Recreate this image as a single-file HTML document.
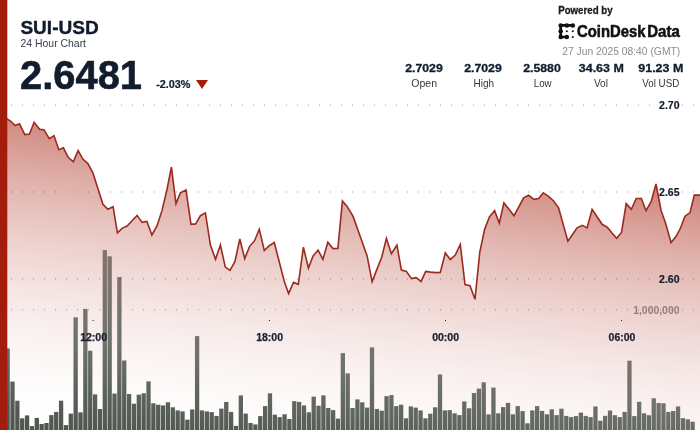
<!DOCTYPE html>
<html lang="en">
<head>
<meta charset="utf-8">
<title>SUI-USD 24 Hour Chart</title>
<style>
html,body{margin:0;padding:0;background:#fff;}
body{width:700px;height:430px;overflow:hidden;}
svg{display:block;will-change:transform;}
text{font-family:"Liberation Sans",sans-serif;}
.b{font-weight:bold;}
</style>
</head>
<body>
<svg width="700" height="430" viewBox="0 0 700 430">
<defs>
<linearGradient id="ag" gradientUnits="userSpaceOnUse" x1="0.0" y1="117.0" x2="-36.6" y2="432.8">
<stop offset="0.0000" stop-color="#a61e0c" stop-opacity="0.5270"/>
<stop offset="0.0625" stop-color="#a61e0c" stop-opacity="0.4632"/>
<stop offset="0.1250" stop-color="#a61e0c" stop-opacity="0.4035"/>
<stop offset="0.1875" stop-color="#a61e0c" stop-opacity="0.3479"/>
<stop offset="0.2500" stop-color="#a61e0c" stop-opacity="0.2964"/>
<stop offset="0.3125" stop-color="#a61e0c" stop-opacity="0.2491"/>
<stop offset="0.3750" stop-color="#a61e0c" stop-opacity="0.2059"/>
<stop offset="0.4375" stop-color="#a61e0c" stop-opacity="0.1667"/>
<stop offset="0.5000" stop-color="#a61e0c" stop-opacity="0.1318"/>
<stop offset="0.5625" stop-color="#a61e0c" stop-opacity="0.1009"/>
<stop offset="0.6250" stop-color="#a61e0c" stop-opacity="0.0741"/>
<stop offset="0.6875" stop-color="#a61e0c" stop-opacity="0.0515"/>
<stop offset="0.7500" stop-color="#a61e0c" stop-opacity="0.0329"/>
<stop offset="0.8125" stop-color="#a61e0c" stop-opacity="0.0185"/>
<stop offset="0.8750" stop-color="#a61e0c" stop-opacity="0.0082"/>
<stop offset="0.9375" stop-color="#a61e0c" stop-opacity="0.0021"/>
<stop offset="1.0000" stop-color="#a61e0c" stop-opacity="0.0000"/>
</linearGradient>
<linearGradient id="bg" gradientUnits="userSpaceOnUse" x1="0.0" y1="243.0" x2="-21.4" y2="427.5">
<stop offset="0.0000" stop-color="#86726c"/>
<stop offset="0.2246" stop-color="#7a726c"/>
<stop offset="0.4652" stop-color="#70726c"/>
<stop offset="0.6738" stop-color="#606660"/>
<stop offset="0.8877" stop-color="#525a52"/>
<stop offset="1.0000" stop-color="#4c564d"/>
</linearGradient>
</defs>
<rect width="700" height="430" fill="#fff"/>
<!-- area -->
<path d="M5.5 117.8 L10.8 121.3 L15.1 125.6 L19.5 123.8 L24.8 134.6 L29.5 134.1 L34.1 122.3 L39.6 129.3 L43.9 129.7 L49.3 138.6 L54 135.6 L58.8 149.7 L63.4 147.8 L68.4 157.6 L73.3 161.8 L78.1 150.6 L83.1 159.3 L87.9 163.6 L92.9 172.9 L97.9 188.6 L102.9 204.3 L107.9 209.3 L113.1 206.7 L117.4 232.9 L122.4 228.1 L127.1 226.1 L132.1 220.7 L137.1 215.4 L142.1 222.4 L146.9 221.4 L151.9 235 L157.1 225.7 L161.9 210.9 L166.7 190.9 L171.4 167.1 L176 203.6 L180.4 192.9 L186 190 L191 224.3 L195.7 223.9 L200.4 215.7 L205.4 212.9 L210.4 245 L215.5 259.3 L220.4 245 L225.3 267.1 L230 270.3 L235 261.4 L239.8 239 L244.7 258.6 L249.5 246.6 L254.6 240.7 L259.3 229.3 L264.3 250.5 L269.3 245.7 L274.3 242.6 L279.3 262 L284.3 281.4 L288.6 293.6 L293.6 282.4 L298.3 284.3 L303.4 247.2 L308.4 268 L313.1 255.9 L318.1 250.1 L322.9 259.4 L327.8 242.2 L333 248.6 L337.9 248.4 L342.4 201 L347.1 206.4 L353.1 216.4 L367.1 255.9 L372.1 281.6 L376.9 269.4 L381.7 257.3 L386.4 238.5 L391.4 253.7 L396.9 245.2 L401.4 270 L406.4 271.4 L411.4 278.6 L416.1 277.6 L421.1 281.4 L425.7 271.4 L430.7 272.1 L435.7 272.6 L440.3 272.4 L445.3 252.9 L450.3 259.6 L455.3 255 L460.3 244.3 L465 284.6 L470 285.7 L475 299.3 L479.8 252 L484.6 229.3 L489.3 217.1 L494.6 210.7 L499.3 223.3 L503.9 202.9 L509 209.3 L514 215.7 L518.8 206.8 L523.6 197.9 L528.6 195.3 L533.9 199.3 L538.6 198.6 L543.3 192.9 L548.6 196.3 L553.6 201 L558.6 207.9 L563.2 224.5 L567.9 241.1 L572.5 234.5 L577.1 227.9 L582.4 225.4 L587.1 227.9 L592.1 209.3 L597.1 216.8 L602.1 224.3 L607.4 227.4 L612 233 L616.6 238.3 L621.5 232.4 L626.2 203.6 L631.4 209.4 L636.2 198.5 L641.4 198.5 L646 210.7 L651.1 201.6 L656 184 L661.1 210.5 L665.6 223.3 L671 242.5 L676 236.5 L680.5 228 L685 216.2 L690 212.6 L694.3 195.1 L701 195.1 L701 431 L5.5 431 Z" fill="url(#ag)"/>
<!-- grid -->
<g stroke="#3c2828" stroke-opacity="0.24" stroke-width="2" stroke-dasharray="1 10" fill="none">
<path d="M0 105H655M682 105H700"/>
<path d="M0 192H655M682 192H700"/>
<path d="M0 279H655M682 279H700"/>
</g>
<path d="M0 309.7H700" stroke="#3c2828" stroke-opacity="0.24" stroke-width="2" stroke-dasharray="1 10" fill="none"/>
<!-- volume bars -->
<g fill="url(#bg)">
<rect x="5.49" y="348.4" width="4.3" height="82.6"/>
<rect x="10.35" y="381.6" width="4.3" height="49.4"/>
<rect x="15.21" y="400.7" width="4.3" height="30.3"/>
<rect x="20.06" y="418.3" width="4.3" height="12.7"/>
<rect x="24.92" y="415.4" width="4.3" height="15.6"/>
<rect x="29.78" y="426.1" width="4.3" height="4.9"/>
<rect x="34.64" y="417.9" width="4.3" height="13.1"/>
<rect x="39.50" y="424" width="4.3" height="7"/>
<rect x="44.35" y="423" width="4.3" height="8"/>
<rect x="49.21" y="415.1" width="4.3" height="15.9"/>
<rect x="54.07" y="411.9" width="4.3" height="19.1"/>
<rect x="58.93" y="400.7" width="4.3" height="30.3"/>
<rect x="63.79" y="425.1" width="4.3" height="5.9"/>
<rect x="68.64" y="413.6" width="4.3" height="17.4"/>
<rect x="73.50" y="317.3" width="4.3" height="113.7"/>
<rect x="78.36" y="412.3" width="4.3" height="18.7"/>
<rect x="83.22" y="308.9" width="4.3" height="122.1"/>
<rect x="88.08" y="350.7" width="4.3" height="80.3"/>
<rect x="92.93" y="394.4" width="4.3" height="36.6"/>
<rect x="97.79" y="409" width="4.3" height="22"/>
<rect x="102.65" y="250.1" width="4.3" height="180.9"/>
<rect x="107.51" y="256.3" width="4.3" height="174.7"/>
<rect x="112.37" y="393.6" width="4.3" height="37.4"/>
<rect x="117.22" y="277" width="4.3" height="154"/>
<rect x="122.08" y="360.5" width="4.3" height="70.5"/>
<rect x="126.94" y="394" width="4.3" height="37"/>
<rect x="131.80" y="403.7" width="4.3" height="27.3"/>
<rect x="136.66" y="394.7" width="4.3" height="36.3"/>
<rect x="141.51" y="393.3" width="4.3" height="37.7"/>
<rect x="146.37" y="381.4" width="4.3" height="49.6"/>
<rect x="151.23" y="403.3" width="4.3" height="27.7"/>
<rect x="156.09" y="404.7" width="4.3" height="26.3"/>
<rect x="160.95" y="405.4" width="4.3" height="25.6"/>
<rect x="165.80" y="402.3" width="4.3" height="28.7"/>
<rect x="170.66" y="407.3" width="4.3" height="23.7"/>
<rect x="175.52" y="410.4" width="4.3" height="20.6"/>
<rect x="180.38" y="411.4" width="4.3" height="19.6"/>
<rect x="185.24" y="419.7" width="4.3" height="11.3"/>
<rect x="190.09" y="409.4" width="4.3" height="21.6"/>
<rect x="194.95" y="336.1" width="4.3" height="94.9"/>
<rect x="199.81" y="410.4" width="4.3" height="20.6"/>
<rect x="204.67" y="411.4" width="4.3" height="19.6"/>
<rect x="209.53" y="412.1" width="4.3" height="18.9"/>
<rect x="214.38" y="415.9" width="4.3" height="15.1"/>
<rect x="219.24" y="408.6" width="4.3" height="22.4"/>
<rect x="224.10" y="401.9" width="4.3" height="29.1"/>
<rect x="228.96" y="411.9" width="4.3" height="19.1"/>
<rect x="233.82" y="425.9" width="4.3" height="5.1"/>
<rect x="238.67" y="395.4" width="4.3" height="35.6"/>
<rect x="243.53" y="413.6" width="4.3" height="17.4"/>
<rect x="248.39" y="423" width="4.3" height="8"/>
<rect x="253.25" y="424.4" width="4.3" height="6.6"/>
<rect x="258.11" y="416.1" width="4.3" height="14.9"/>
<rect x="262.96" y="406.1" width="4.3" height="24.9"/>
<rect x="267.82" y="393.3" width="4.3" height="37.7"/>
<rect x="272.68" y="414.7" width="4.3" height="16.3"/>
<rect x="277.54" y="417.1" width="4.3" height="13.9"/>
<rect x="282.40" y="414.3" width="4.3" height="16.7"/>
<rect x="287.25" y="419" width="4.3" height="12"/>
<rect x="292.11" y="401.1" width="4.3" height="29.9"/>
<rect x="296.97" y="401.9" width="4.3" height="29.1"/>
<rect x="301.83" y="405.4" width="4.3" height="25.6"/>
<rect x="306.69" y="412.3" width="4.3" height="18.7"/>
<rect x="311.54" y="396.6" width="4.3" height="34.4"/>
<rect x="316.40" y="405.7" width="4.3" height="25.3"/>
<rect x="321.26" y="395.4" width="4.3" height="35.6"/>
<rect x="326.12" y="408" width="4.3" height="23"/>
<rect x="330.98" y="410.1" width="4.3" height="20.9"/>
<rect x="335.83" y="418.6" width="4.3" height="12.4"/>
<rect x="340.69" y="353.1" width="4.3" height="77.9"/>
<rect x="345.55" y="373.4" width="4.3" height="57.6"/>
<rect x="350.41" y="408" width="4.3" height="23"/>
<rect x="355.27" y="399.4" width="4.3" height="31.6"/>
<rect x="360.12" y="402.3" width="4.3" height="28.7"/>
<rect x="364.98" y="407.6" width="4.3" height="23.4"/>
<rect x="369.84" y="347.4" width="4.3" height="83.6"/>
<rect x="374.70" y="409" width="4.3" height="22"/>
<rect x="379.56" y="410.7" width="4.3" height="20.3"/>
<rect x="384.41" y="396.1" width="4.3" height="34.9"/>
<rect x="389.27" y="395.1" width="4.3" height="35.9"/>
<rect x="394.13" y="406.1" width="4.3" height="24.9"/>
<rect x="398.99" y="404.7" width="4.3" height="26.3"/>
<rect x="403.85" y="418.3" width="4.3" height="12.7"/>
<rect x="408.70" y="406.4" width="4.3" height="24.6"/>
<rect x="413.56" y="407.6" width="4.3" height="23.4"/>
<rect x="418.42" y="410.4" width="4.3" height="20.6"/>
<rect x="423.28" y="418.3" width="4.3" height="12.7"/>
<rect x="428.14" y="413.7" width="4.3" height="17.3"/>
<rect x="432.99" y="407.3" width="4.3" height="23.7"/>
<rect x="437.85" y="374.4" width="4.3" height="56.6"/>
<rect x="442.71" y="410.4" width="4.3" height="20.6"/>
<rect x="447.57" y="410.1" width="4.3" height="20.9"/>
<rect x="452.43" y="413.3" width="4.3" height="17.7"/>
<rect x="457.28" y="415.1" width="4.3" height="15.9"/>
<rect x="462.14" y="401.4" width="4.3" height="29.6"/>
<rect x="467.00" y="408.3" width="4.3" height="22.7"/>
<rect x="471.86" y="393" width="4.3" height="38"/>
<rect x="476.72" y="388.6" width="4.3" height="42.4"/>
<rect x="481.57" y="382.3" width="4.3" height="48.7"/>
<rect x="486.43" y="414.4" width="4.3" height="16.6"/>
<rect x="491.29" y="387.6" width="4.3" height="43.4"/>
<rect x="496.15" y="413.3" width="4.3" height="17.7"/>
<rect x="501.01" y="407.1" width="4.3" height="23.9"/>
<rect x="505.86" y="402.9" width="4.3" height="28.1"/>
<rect x="510.72" y="414.3" width="4.3" height="16.7"/>
<rect x="515.58" y="406.1" width="4.3" height="24.9"/>
<rect x="520.44" y="411.1" width="4.3" height="19.9"/>
<rect x="525.30" y="423.3" width="4.3" height="7.7"/>
<rect x="530.15" y="410.4" width="4.3" height="20.6"/>
<rect x="535.01" y="406.1" width="4.3" height="24.9"/>
<rect x="539.87" y="410.9" width="4.3" height="20.1"/>
<rect x="544.73" y="414.3" width="4.3" height="16.7"/>
<rect x="549.59" y="409.3" width="4.3" height="21.7"/>
<rect x="554.44" y="415.1" width="4.3" height="15.9"/>
<rect x="559.30" y="408.7" width="4.3" height="22.3"/>
<rect x="564.16" y="415.9" width="4.3" height="15.1"/>
<rect x="569.02" y="417.1" width="4.3" height="13.9"/>
<rect x="573.88" y="416.1" width="4.3" height="14.9"/>
<rect x="578.73" y="412.6" width="4.3" height="18.4"/>
<rect x="583.59" y="415.9" width="4.3" height="15.1"/>
<rect x="588.45" y="417.1" width="4.3" height="13.9"/>
<rect x="593.31" y="406.4" width="4.3" height="24.6"/>
<rect x="598.17" y="420.7" width="4.3" height="10.3"/>
<rect x="603.02" y="415.8" width="4.3" height="15.2"/>
<rect x="607.88" y="410.5" width="4.3" height="20.5"/>
<rect x="612.74" y="415.2" width="4.3" height="15.8"/>
<rect x="617.60" y="417.1" width="4.3" height="13.9"/>
<rect x="622.46" y="411.9" width="4.3" height="19.1"/>
<rect x="627.31" y="360.7" width="4.3" height="70.3"/>
<rect x="632.17" y="416.1" width="4.3" height="14.9"/>
<rect x="637.03" y="401.8" width="4.3" height="29.2"/>
<rect x="641.89" y="413.3" width="4.3" height="17.7"/>
<rect x="646.75" y="415.2" width="4.3" height="15.8"/>
<rect x="651.60" y="398.3" width="4.3" height="32.7"/>
<rect x="656.46" y="403" width="4.3" height="28"/>
<rect x="661.32" y="403.3" width="4.3" height="27.7"/>
<rect x="666.18" y="411.9" width="4.3" height="19.1"/>
<rect x="671.04" y="411" width="4.3" height="20"/>
<rect x="675.89" y="406.4" width="4.3" height="24.6"/>
<rect x="680.75" y="418.1" width="4.3" height="12.9"/>
<rect x="685.61" y="419.3" width="4.3" height="11.7"/>
<rect x="690.47" y="421.7" width="4.3" height="9.3"/>
</g>

<!-- price line -->
<path d="M5.5 117.8 L10.8 121.3 L15.1 125.6 L19.5 123.8 L24.8 134.6 L29.5 134.1 L34.1 122.3 L39.6 129.3 L43.9 129.7 L49.3 138.6 L54 135.6 L58.8 149.7 L63.4 147.8 L68.4 157.6 L73.3 161.8 L78.1 150.6 L83.1 159.3 L87.9 163.6 L92.9 172.9 L97.9 188.6 L102.9 204.3 L107.9 209.3 L113.1 206.7 L117.4 232.9 L122.4 228.1 L127.1 226.1 L132.1 220.7 L137.1 215.4 L142.1 222.4 L146.9 221.4 L151.9 235 L157.1 225.7 L161.9 210.9 L166.7 190.9 L171.4 167.1 L176 203.6 L180.4 192.9 L186 190 L191 224.3 L195.7 223.9 L200.4 215.7 L205.4 212.9 L210.4 245 L215.5 259.3 L220.4 245 L225.3 267.1 L230 270.3 L235 261.4 L239.8 239 L244.7 258.6 L249.5 246.6 L254.6 240.7 L259.3 229.3 L264.3 250.5 L269.3 245.7 L274.3 242.6 L279.3 262 L284.3 281.4 L288.6 293.6 L293.6 282.4 L298.3 284.3 L303.4 247.2 L308.4 268 L313.1 255.9 L318.1 250.1 L322.9 259.4 L327.8 242.2 L333 248.6 L337.9 248.4 L342.4 201 L347.1 206.4 L353.1 216.4 L367.1 255.9 L372.1 281.6 L376.9 269.4 L381.7 257.3 L386.4 238.5 L391.4 253.7 L396.9 245.2 L401.4 270 L406.4 271.4 L411.4 278.6 L416.1 277.6 L421.1 281.4 L425.7 271.4 L430.7 272.1 L435.7 272.6 L440.3 272.4 L445.3 252.9 L450.3 259.6 L455.3 255 L460.3 244.3 L465 284.6 L470 285.7 L475 299.3 L479.8 252 L484.6 229.3 L489.3 217.1 L494.6 210.7 L499.3 223.3 L503.9 202.9 L509 209.3 L514 215.7 L518.8 206.8 L523.6 197.9 L528.6 195.3 L533.9 199.3 L538.6 198.6 L543.3 192.9 L548.6 196.3 L553.6 201 L558.6 207.9 L563.2 224.5 L567.9 241.1 L572.5 234.5 L577.1 227.9 L582.4 225.4 L587.1 227.9 L592.1 209.3 L597.1 216.8 L602.1 224.3 L607.4 227.4 L612 233 L616.6 238.3 L621.5 232.4 L626.2 203.6 L631.4 209.4 L636.2 198.5 L641.4 198.5 L646 210.7 L651.1 201.6 L656 184 L661.1 210.5 L665.6 223.3 L671 242.5 L676 236.5 L680.5 228 L685 216.2 L690 212.6 L694.3 195.1 L701 195.1" fill="none" stroke="#9c2a1e" stroke-width="1.6" stroke-linejoin="miter"/>
<!-- left accent -->
<rect x="0" y="0" width="7.3" height="430" fill="#a41c0c"/>
<!-- axis labels -->
<g class="b" font-size="10.5" fill="#111c2d" stroke="#111c2d" stroke-width="0.2">
<text x="659.1" y="108.8" textLength="20.4" lengthAdjust="spacingAndGlyphs">2.70</text>
<text x="659.1" y="195.8" textLength="20.4" lengthAdjust="spacingAndGlyphs">2.65</text>
<text x="659.1" y="282.8" textLength="20.4" lengthAdjust="spacingAndGlyphs">2.60</text>
</g>
<text class="b" x="633.2" y="313.6" font-size="10.5" fill="#6d5a58" fill-opacity="0.7" textLength="46.3" lengthAdjust="spacingAndGlyphs">1,000,000</text>
<g fill="#111c2d">
<rect x="92.6" y="320" width="1" height="1"/>
<rect x="268.9" y="320" width="1" height="1"/>
<rect x="445" y="320" width="1" height="1"/>
<rect x="621.1" y="320" width="1" height="1"/>
</g>
<g class="b" font-size="10.5" fill="#1b2030" stroke="#1b2030" stroke-width="0.25" text-anchor="middle">
<text x="93.6" y="341">12:00</text>
<text x="269.6" y="341">18:00</text>
<text x="445.6" y="341">00:00</text>
<text x="622" y="341">06:00</text>
</g>
<!-- header left -->
<text class="b" x="20.4" y="33.5" font-size="17.7" fill="#111c2d" stroke="#111c2d" stroke-width="0.35" textLength="78.3" lengthAdjust="spacingAndGlyphs">SUI-USD</text>
<text x="20.5" y="47" font-size="11" fill="#3b4048" textLength="65.5" lengthAdjust="spacingAndGlyphs">24 Hour Chart</text>
<text class="b" x="20" y="88.6" font-size="40" fill="#111c2d" stroke="#111c2d" stroke-width="0.6" textLength="122" lengthAdjust="spacingAndGlyphs">2.6481</text>
<text class="b" x="156.2" y="87.9" font-size="10.5" fill="#111c2d" stroke="#111c2d" stroke-width="0.2" textLength="34.3" lengthAdjust="spacingAndGlyphs">-2.03%</text>
<path d="M196 80 L208 80 L202 89 Z" fill="#a81c0e"/>
<!-- header right -->
<text class="b" x="558.2" y="14.4" font-size="10" fill="#1a1a1a" stroke="#1a1a1a" stroke-width="0.3" textLength="54.4" lengthAdjust="spacingAndGlyphs">Powered by</text>
<g fill="#111" stroke="none">
<path d="M572.8 25.4 L560.7 25.4 L560.7 37 L566.8 37" fill="none" stroke="#111" stroke-width="2.7" stroke-linecap="round" stroke-linejoin="round"/>
<circle cx="560.7" cy="25.4" r="2.25"/><circle cx="566.8" cy="25.4" r="2.25"/><circle cx="572.8" cy="25.4" r="2.25"/>
<circle cx="560.7" cy="31.2" r="2.25"/><circle cx="560.7" cy="37" r="2.25"/><circle cx="566.8" cy="37" r="2.25"/>
<circle cx="566.8" cy="31.2" r="1.05"/><circle cx="572.8" cy="31.2" r="1.05"/><circle cx="572.8" cy="37" r="1.05"/>
</g>
<text class="b" x="577" y="37" font-size="16" fill="#111" stroke="#111" stroke-width="0.55" textLength="68.5" lengthAdjust="spacingAndGlyphs">CoinDesk</text>
<text class="b" x="647.3" y="37" font-size="16" fill="#111" stroke="#111" stroke-width="0.55" textLength="32.5" lengthAdjust="spacingAndGlyphs">Data</text>
<text x="562.2" y="55" font-size="10.5" fill="#8c8c8c" textLength="118" lengthAdjust="spacingAndGlyphs">27 Jun 2025 08:40 (GMT)</text>
<!-- stats -->
<g class="b" font-size="11.5" fill="#111c2d" stroke="#111c2d" stroke-width="0.3" text-anchor="middle">
<text x="424" y="71.5" textLength="37.6" lengthAdjust="spacingAndGlyphs">2.7029</text>
<text x="483" y="71.5" textLength="37.6" lengthAdjust="spacingAndGlyphs">2.7029</text>
<text x="542" y="71.5" textLength="37.6" lengthAdjust="spacingAndGlyphs">2.5880</text>
<text x="601.3" y="71.5" textLength="45" lengthAdjust="spacingAndGlyphs">34.63 M</text>
<text x="660.8" y="71.5" textLength="45" lengthAdjust="spacingAndGlyphs">91.23 M</text>
</g>
<g font-size="10.8" fill="#33373d" text-anchor="middle">
<text x="424.2" y="86.6" textLength="25.8" lengthAdjust="spacingAndGlyphs">Open</text>
<text x="483.8" y="86.6" textLength="20.6" lengthAdjust="spacingAndGlyphs">High</text>
<text x="542.7" y="86.6" textLength="18" lengthAdjust="spacingAndGlyphs">Low</text>
<text x="600.9" y="86.6" textLength="14" lengthAdjust="spacingAndGlyphs">Vol</text>
<text x="660.8" y="86.6" textLength="37" lengthAdjust="spacingAndGlyphs">Vol USD</text>
</g>
</svg>
</body>
</html>
